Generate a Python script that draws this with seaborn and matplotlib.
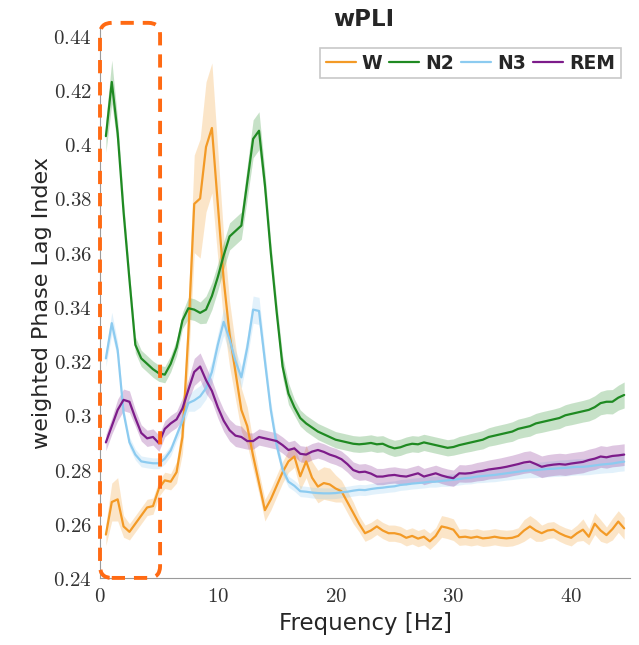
import numpy as np
import pandas as pd
import matplotlib
matplotlib.use("Agg")
import matplotlib.pyplot as plt
import seaborn as sns
from matplotlib.patches import FancyBboxPatch
from matplotlib.ticker import FuncFormatter

# ---------------- data ----------------
freq = np.arange(0.5, 44.51, 0.5)

stages = ["W", "N2", "N3", "REM"]

w_mean = [0.256, 0.268, 0.269, 0.259, 0.257, 0.260, 0.263, 0.266, 0.2665, 0.273,
          0.276, 0.2755, 0.279, 0.292, 0.330, 0.378, 0.380, 0.399, 0.406, 0.378,
          0.350, 0.330, 0.316, 0.302, 0.296, 0.285, 0.275, 0.265, 0.269, 0.274,
          0.279, 0.283, 0.2848, 0.2775, 0.283, 0.277, 0.2737, 0.275, 0.2745, 0.273,
          0.272, 0.268, 0.264, 0.260, 0.2565, 0.2575, 0.259, 0.2575, 0.2565, 0.2565,
          0.256, 0.2548, 0.2555, 0.2545, 0.2552, 0.2535, 0.2555, 0.259, 0.2585, 0.2578,
          0.255, 0.2552, 0.2548, 0.2552, 0.2546, 0.2548, 0.2552, 0.2548, 0.2546, 0.2548,
          0.2555, 0.2575, 0.259, 0.2575, 0.2565, 0.2575, 0.2578, 0.2565, 0.2555, 0.2548,
          0.2565, 0.2578, 0.2552, 0.260, 0.2575, 0.2558, 0.258, 0.2608, 0.2583]

n2_mean = [0.403, 0.423, 0.404, 0.375, 0.350, 0.326, 0.321, 0.319, 0.317, 0.3155,
           0.315, 0.319, 0.325, 0.335, 0.3395, 0.339, 0.3378, 0.339, 0.344, 0.351,
           0.359, 0.366, 0.368, 0.370, 0.386, 0.402, 0.405, 0.385, 0.360, 0.338,
           0.318, 0.308, 0.303, 0.299, 0.297, 0.2955, 0.294, 0.293, 0.292, 0.291,
           0.2905, 0.290, 0.2895, 0.2893, 0.2895, 0.2898, 0.2893, 0.2895, 0.2885, 0.2878,
           0.2882, 0.289, 0.2895, 0.2893, 0.290, 0.2895, 0.289, 0.2885, 0.288, 0.2883,
           0.289, 0.2895, 0.290, 0.2905, 0.291, 0.292, 0.2925, 0.293, 0.2935, 0.294,
           0.295, 0.2955, 0.296, 0.297, 0.2975, 0.298, 0.2985, 0.299, 0.300, 0.3005,
           0.301, 0.3015, 0.302, 0.303, 0.3045, 0.305, 0.305, 0.3065, 0.3075]

n3_mean = [0.321, 0.334, 0.324, 0.301, 0.290, 0.2855, 0.283, 0.2826, 0.2823, 0.2823,
           0.284, 0.287, 0.2925, 0.298, 0.3045, 0.3055, 0.307, 0.310, 0.316, 0.326,
           0.3345, 0.328, 0.320, 0.314, 0.325, 0.339, 0.3385, 0.320, 0.302, 0.289,
           0.280, 0.2755, 0.274, 0.272, 0.2718, 0.2715, 0.2713, 0.2712, 0.2712, 0.2713,
           0.2716, 0.2718, 0.2722, 0.2725, 0.2724, 0.2728, 0.2731, 0.2733, 0.2736, 0.2738,
           0.2743, 0.2745, 0.2748, 0.275, 0.2752, 0.2755, 0.2755, 0.2758, 0.276, 0.2762,
           0.2765, 0.2768, 0.277, 0.2774, 0.2776, 0.2778, 0.278, 0.2783, 0.2786, 0.2789,
           0.2792, 0.2795, 0.2797, 0.2798, 0.280, 0.2802, 0.2803, 0.2805, 0.2806, 0.2808,
           0.281, 0.281, 0.2812, 0.2815, 0.2818, 0.282, 0.2822, 0.2826, 0.2829]

rem_mean = [0.290, 0.296, 0.302, 0.3057, 0.305, 0.299, 0.2935, 0.2915, 0.292, 0.2897,
            0.295, 0.297, 0.2985, 0.3025, 0.3094, 0.316, 0.318, 0.313, 0.309, 0.303,
            0.298, 0.2945, 0.2925, 0.292, 0.2905, 0.2905, 0.292, 0.2915, 0.291, 0.2905,
            0.289, 0.2872, 0.2878, 0.2858, 0.2855, 0.2866, 0.2872, 0.2865, 0.2855, 0.2848,
            0.2838, 0.282, 0.2798, 0.279, 0.2792, 0.2785, 0.2774, 0.2774, 0.2778, 0.278,
            0.2776, 0.2774, 0.278, 0.2786, 0.2774, 0.278, 0.2786, 0.2778, 0.2772, 0.2768,
            0.2786, 0.2785, 0.2787, 0.2792, 0.2795, 0.280, 0.2803, 0.2806, 0.281, 0.2815,
            0.282, 0.2826, 0.2829, 0.282, 0.281, 0.2815, 0.2818, 0.282, 0.2818, 0.2822,
            0.2825, 0.2828, 0.2835, 0.284, 0.2848, 0.2845, 0.285, 0.2852, 0.2855]

w_sem = [0.004, 0.007, 0.008, 0.004, 0.003, 0.003, 0.003, 0.003, 0.003, 0.003,
         0.003, 0.003, 0.004, 0.006, 0.012, 0.018, 0.022, 0.024, 0.024, 0.020,
         0.016, 0.012, 0.010, 0.008, 0.007, 0.005, 0.004, 0.004, 0.004, 0.004,
         0.004, 0.004, 0.004, 0.005, 0.006, 0.006, 0.006, 0.006, 0.006, 0.005,
         0.004, 0.004, 0.004, 0.003, 0.003, 0.003, 0.003, 0.003, 0.003, 0.003,
         0.003, 0.003, 0.003, 0.003, 0.003, 0.003, 0.003, 0.004, 0.004, 0.004,
         0.003, 0.003, 0.003, 0.003, 0.003, 0.003, 0.003, 0.003, 0.003, 0.003,
         0.003, 0.004, 0.004, 0.004, 0.003, 0.003, 0.003, 0.003, 0.003, 0.003,
         0.003, 0.004, 0.003, 0.004, 0.004, 0.003, 0.004, 0.004, 0.004]

n2_sem = [0.006, 0.008, 0.005, 0.004, 0.003, 0.003, 0.003, 0.003, 0.003, 0.003,
          0.003, 0.003, 0.003, 0.003, 0.004, 0.004, 0.004, 0.005, 0.005, 0.005,
          0.005, 0.005, 0.005, 0.005, 0.006, 0.007, 0.007, 0.005, 0.004, 0.004,
          0.004, 0.004, 0.003, 0.003, 0.003, 0.003, 0.003, 0.003, 0.003, 0.003,
          0.003, 0.003, 0.003, 0.003, 0.003, 0.003, 0.003, 0.003, 0.003, 0.003,
          0.003, 0.003, 0.003, 0.003, 0.003, 0.003, 0.003, 0.003, 0.003, 0.003,
          0.0032, 0.0032, 0.0033, 0.0033, 0.0034, 0.0034, 0.0035, 0.0035, 0.0035, 0.0036,
          0.0036, 0.0036, 0.0037, 0.0037, 0.0038, 0.0038, 0.0038, 0.0039, 0.0039, 0.004,
          0.004, 0.004, 0.0041, 0.0042, 0.0043, 0.0044, 0.0045, 0.0046, 0.0048]

n3_sem = [0.003, 0.004, 0.003, 0.002, 0.002, 0.002, 0.002, 0.002, 0.002, 0.002,
          0.002, 0.002, 0.002, 0.003, 0.003, 0.004, 0.004, 0.004, 0.004, 0.004,
          0.005, 0.005, 0.004, 0.004, 0.004, 0.005, 0.005, 0.004, 0.003, 0.003,
          0.002, 0.002, 0.002, 0.002, 0.002, 0.002, 0.002, 0.002, 0.002, 0.002,
          0.002, 0.002, 0.002, 0.002, 0.002, 0.002, 0.002, 0.002, 0.002, 0.002,
          0.002, 0.002, 0.002, 0.002, 0.002, 0.002, 0.002, 0.002, 0.0022, 0.0022,
          0.0022, 0.0022, 0.0023, 0.0023, 0.0024, 0.0024, 0.0025, 0.0025, 0.0025, 0.0026,
          0.0026, 0.0027, 0.0027, 0.0028, 0.0028, 0.0029, 0.0029, 0.003, 0.003, 0.003,
          0.003, 0.003, 0.0031, 0.0031, 0.0032, 0.0032, 0.0033, 0.0033, 0.0034]

rem_sem = [0.003, 0.003, 0.004, 0.004, 0.004, 0.003, 0.003, 0.003, 0.003, 0.003,
           0.003, 0.003, 0.003, 0.004, 0.004, 0.005, 0.005, 0.005, 0.004, 0.004,
           0.004, 0.004, 0.004, 0.004, 0.003, 0.003, 0.003, 0.003, 0.003, 0.003,
           0.003, 0.003, 0.003, 0.003, 0.003, 0.003, 0.003, 0.003, 0.003, 0.003,
           0.003, 0.003, 0.003, 0.003, 0.003, 0.003, 0.003, 0.003, 0.003, 0.003,
           0.003, 0.003, 0.003, 0.003, 0.003, 0.003, 0.003, 0.003, 0.003, 0.003,
           0.0032, 0.0032, 0.0033, 0.0034, 0.0035, 0.0035, 0.0036, 0.0037, 0.0038, 0.0038,
           0.0039, 0.004, 0.004, 0.004, 0.004, 0.004, 0.004, 0.004, 0.004, 0.004,
           0.004, 0.004, 0.004, 0.004, 0.004, 0.004, 0.004, 0.004, 0.004]

yticks = [0.24, 0.26, 0.28, 0.30, 0.32, 0.34, 0.36, 0.38, 0.40, 0.42, 0.44]
xticks = [0, 10, 20, 30, 40]

colors = {"W": "#F39A26", "N2": "#1F8A22", "N3": "#8CCBF0", "REM": "#7D1C8A"}

means = {"W": w_mean, "N2": n2_mean, "N3": n3_mean, "REM": rem_mean}
sems = {"W": w_sem, "N2": n2_sem, "N3": n3_sem, "REM": rem_sem}

df = pd.concat([pd.DataFrame({"freq": freq, "wpli": means[s], "stage": s}) for s in stages],
               ignore_index=True)

# ---------------- plot ----------------
sns.set_style("white")
plt.rcParams["mathtext.fontset"] = "cm"
plt.rcParams["font.family"] = ["DejaVu Sans"]

fig = plt.figure(figsize=(6.39, 6.45), dpi=100)
ax = fig.add_axes([0.1565, 0.104, 0.8295, 0.853])

for s in stages:
    m = np.array(means[s])
    e = np.array(sems[s])
    ax.fill_between(freq, m - e, m + e, color=colors[s], alpha=0.25, linewidth=0)

sns.lineplot(data=df, x="freq", y="wpli", hue="stage", hue_order=stages,
             palette=colors, linewidth=1.6, ax=ax, legend=True)

ax.set_xlim(0, 45)
ax.set_ylim(0.24, 0.443)
ax.set_xticks(xticks)
ax.set_yticks(yticks)
ax.xaxis.set_major_formatter(FuncFormatter(lambda v, p: r"$%g$" % v))
ax.yaxis.set_major_formatter(FuncFormatter(lambda v, p: r"$%g$" % round(v, 2)))
ax.tick_params(axis="both", direction="in", length=4, width=0.8, color="#9a9a9a",
               labelsize=15, labelcolor="#333333", pad=6)

for side in ["top", "right"]:
    ax.spines[side].set_visible(False)
for side in ["left", "bottom"]:
    ax.spines[side].set_color("#9a9a9a")
    ax.spines[side].set_linewidth(0.8)

ax.set_xlabel("Frequency [Hz]", fontsize=16.5, labelpad=4)
ax.set_ylabel("weighted Phase Lag Index", fontsize=16, labelpad=1)

# title placed just above the plot area (overlaps the top like the reference)
fig.text(0.569, 1 - 20 / 645, "wPLI", fontsize=16.5, fontweight="bold",
         ha="center", va="center")

leg = ax.legend(loc="upper right", bbox_to_anchor=(0.982, 0.963), borderaxespad=0,
                ncol=4, frameon=True, fancybox=False, handlelength=1.6,
                handletextpad=0.3, columnspacing=0.4, borderpad=0.3,
                prop={"weight": "bold", "size": 13.5})
leg.get_frame().set_edgecolor("#bbbbbb")
leg.get_frame().set_linewidth(1.2)
for line in leg.get_lines():
    line.set_linewidth(1.6)

# dashed highlight box over 0-5 Hz
box = FancyBboxPatch((0.0, 0.24), 5.1, 0.2048,
                     boxstyle="round,pad=0,rounding_size=1.0",
                     mutation_aspect=0.00434,
                     fill=False, edgecolor="#FF6A13", linewidth=2.8,
                     linestyle=(0, (3.4, 2.3)), clip_on=False, zorder=5)
ax.add_patch(box)

fig.savefig("out.png", dpi=100)
